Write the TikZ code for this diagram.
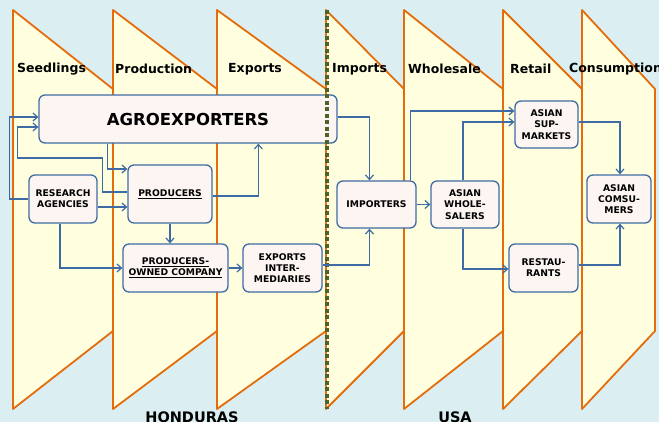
\documentclass[tikz,border=0pt]{standalone}
\usepackage{fontspec}
\setmainfont{DejaVu Sans}
\usetikzlibrary{arrows.meta,calc}

\definecolor{bgblue}{HTML}{DBEEF1}
\definecolor{panelfill}{HTML}{FFFFE0}
\definecolor{paneledge}{HTML}{E46C0A}
\definecolor{boxfill}{HTML}{FCF5F2}
\definecolor{boxedge}{HTML}{3E6BA3}
\definecolor{borderline}{HTML}{4F6228}

\begin{document}
\begin{tikzpicture}[
  x=1pt, y=-1pt,
  panel/.style={fill=panelfill, draw=paneledge, line width=1.8pt, line join=round},
  stage/.style={font=\bfseries\fontsize{12.5}{14}\selectfont, anchor=west, inner sep=0pt},
  actor/.style={draw=boxedge, fill=boxfill, line width=1.3pt, rounded corners=6pt,
                inner sep=0pt, align=center, font=\bfseries\fontsize{9.2}{11.2}\selectfont},
  flow/.style={draw=boxedge, line width=1.2pt, -{Straight Barb[length=4.5pt,width=8pt]}},
  border/.style={draw=borderline, line width=4.5pt, dash pattern=on 4pt off 2.5pt},
  country/.style={font=\bfseries\fontsize{14.5}{16}\selectfont, anchor=base}
]

% Picture geometry
\def\Wd{659}
\def\Ht{422}

\useasboundingbox (0,0) rectangle (\Wd,\Ht);
\clip (0,0) rectangle (\Wd,\Ht);
\fill[bgblue] (0,0) rectangle (\Wd,\Ht);

% =========================================================
% STAGE PANELS
% =========================================================
\foreach \l/\r in {13/113, 113/217, 217/326, 326/404, 404/503, 503/582, 582/655}
  \path[panel] (\l,10) -- (\r,89) -- (\r,331) -- (\l,409) -- cycle;

\node[stage] (tSeed) at (17,69)  {Seedlings};
\node[stage] (tProd) at (115,69) {Production};
\node[stage] (tExp)  at (228,69) {Exports};
\node[stage] (tImp)  at (332,69) {Imports};
\node[stage] (tWhol) at (408,69) {Wholesale};
\node[stage] (tRet)  at (510,69) {Retail};
\node[stage] (tCons) at (569,69) {Consumption};

% =========================================================
% ACTORS
% =========================================================
\node[actor, minimum width=298pt, minimum height=48pt,
      font=\bfseries\fontsize{16.5}{18}\selectfont] (agro) at (188,119) {AGROEXPORTERS};
\node[actor, minimum width=68pt, minimum height=48pt] (research) at (63,199) {RESEARCH\\AGENCIES};
\node[actor, minimum width=84pt, minimum height=58pt] (producers) at (170,194) {\underline{PRODUCERS}};
\node[actor, minimum width=105pt, minimum height=48pt] (poc) at (175.5,268)
  {\underline{PRODUCERS-}\\\underline{OWNED COMPANY}};
\node[actor, minimum width=79pt, minimum height=48pt] (expint) at (282.5,268) {EXPORTS\\INTER-\\MEDIARIES};
\node[actor, minimum width=79pt, minimum height=47pt] (importers) at (376.5,204.5) {IMPORTERS};
\node[actor, minimum width=68pt, minimum height=47pt] (wholesalers) at (465,204.5) {ASIAN\\WHOLE-\\SALERS};
\node[actor, minimum width=63pt, minimum height=47pt] (supermarkets) at (546.5,124.5) {ASIAN\\SUP-\\MARKETS};
\node[actor, minimum width=69pt, minimum height=48pt] (restaurants) at (543.5,268) {RESTAU-\\RANTS};
\node[actor, minimum width=64pt, minimum height=48pt] (consumers) at (619,199) {ASIAN\\COMSU-\\MERS};

% ---------- country border ----------
\draw[border] (327,10) -- (327,409);

% =========================================================
% FLOWS
% =========================================================
% Honduras side
\draw[flow] (research.west) -- ++(-19,0) |- ($(agro.west)+(0,-2)$);
\draw[flow] ($(producers.west)+(0,-2)$) -- ++(-25,0) -- ++(0,-34) -- ++(-85,0)
  |- ($(agro.west)+(0,8)$);
\draw[flow] ($(agro.south west)+(69,0)$) |- ($(producers.west)+(0,-25)$);
\draw[flow] ($(research.east)+(0,8)$) -- ($(producers.west)+(0,13)$);
\draw[flow] ($(research.south)+(-3,0)$) |- (poc.west);
\draw[flow] (producers.south) -- (producers.south |- poc.north);
\draw[flow] ($(producers.east)+(0,2)$) -| ($(agro.south west)+(220,0)$);
\draw[flow] (poc.east) -- (expint.west);

% USA side
\draw[flow] ($(expint.east)+(0,-3)$) -| ($(importers.south)+(-7,0)$);
\draw[flow] ($(agro.east)+(0,-2)$) -| ($(importers.north)+(-7,0)$);
\draw[flow] (importers.east) -- (wholesalers.west);
\draw[flow] ($(importers.north east)+(-6,0)$) |- ($(supermarkets.west)+(0,-13.5)$);
\draw[flow] ($(wholesalers.north)+(-2,0)$) |- ($(supermarkets.west)+(0,-2.5)$);
\draw[flow] ($(wholesalers.south)+(-2,0)$) |- ($(restaurants.west)+(0,1)$);
\draw[flow] ($(supermarkets.east)+(0,-2.5)$) -| ($(consumers.north)+(1,0)$);
\draw[flow] ($(restaurants.east)+(0,-3)$) -| ($(consumers.south)+(1,0)$);

% ---------- countries ----------
\node[country] (honduras) at (192,422) {HONDURAS};
\node[country] (usa) at (455,422) {USA};
\end{tikzpicture}
\end{document}
